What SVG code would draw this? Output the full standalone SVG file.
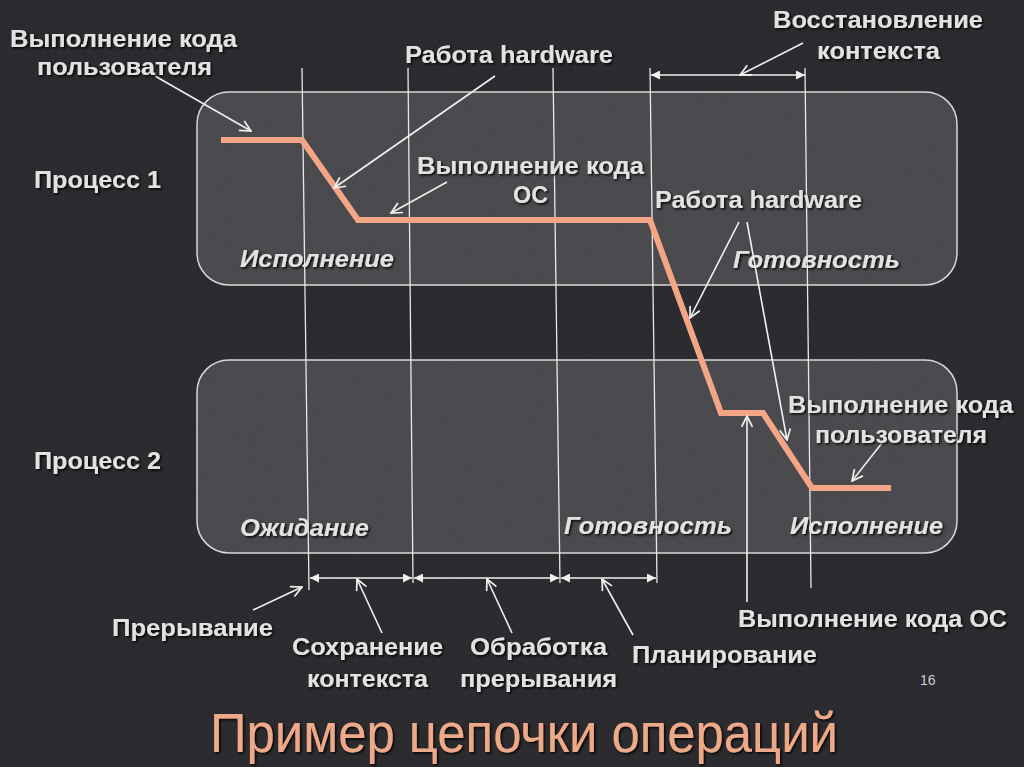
<svg xmlns="http://www.w3.org/2000/svg" width="1024" height="767" viewBox="0 0 1024 767">
<defs>
  <filter id="noise" x="0" y="0" width="100%" height="100%">
    <feTurbulence type="fractalNoise" baseFrequency="0.9" numOctaves="2" seed="3" result="n"/>
    <feColorMatrix type="matrix" values="0 0 0 0 0.5  0 0 0 0 0.5  0 0 0 0 0.5  0 0 0 0.06 0"/>
  </filter>
  <filter id="shadow" x="-10%" y="-30%" width="120%" height="160%">
    <feDropShadow dx="1.5" dy="1.5" stdDeviation="0.8" flood-color="#000" flood-opacity="0.9"/>
  </filter>
  <marker id="open" viewBox="0 0 12 12" refX="11" refY="6" markerWidth="13" markerHeight="13" orient="auto" markerUnits="userSpaceOnUse">
    <path d="M1,1 L11,6 L1,11" fill="none" stroke="#f0f0f0" stroke-width="1.6"/>
  </marker>
  <marker id="solid" viewBox="0 0 10 10" refX="10" refY="5" markerWidth="11" markerHeight="9" orient="auto-start-reverse" markerUnits="userSpaceOnUse">
    <path d="M0,0 L10,5 L0,10 z" fill="#f0f0f0"/>
  </marker>
</defs>
<style>
  .t { font-family: "Liberation Sans", Arial, sans-serif; font-size: 23px; font-weight: bold; fill: #e2e2e2; filter: url(#shadow); }
  .i { font-style: italic; }
  .box { fill: #ffffff; fill-opacity: 0.15; stroke: #d8d8d8; stroke-width: 1.5; }
  .vl { stroke: #e8e8e8; stroke-width: 1.3; fill: none; }
  .ar { stroke: #f0f0f0; stroke-width: 1.6; fill: none; marker-end: url(#open); }
  .br { stroke: #f0f0f0; stroke-width: 1.6; fill: none; marker-start: url(#solid); marker-end: url(#solid); }
  .title { font-family: "Liberation Sans", Arial, sans-serif; font-size: 56px; fill: #eeaa88; filter: url(#shadow); }
</style>
<rect width="1024" height="767" fill="#27262a"/>
<rect width="1024" height="767" filter="url(#noise)"/>

<g id="process1">
  <rect class="box" x="197" y="92" width="760" height="193" rx="32"/>
  <text class="t" x="34" y="188" textLength="127" lengthAdjust="spacingAndGlyphs">Процесс 1</text>
  <text class="t i" x="240" y="267" textLength="154" lengthAdjust="spacingAndGlyphs">Исполнение</text>
  <text class="t i" x="733" y="268" textLength="167" lengthAdjust="spacingAndGlyphs">Готовность</text>
</g>

<g id="process2">
  <rect class="box" x="197" y="360" width="760" height="193" rx="32"/>
  <text class="t" x="34" y="469" textLength="127" lengthAdjust="spacingAndGlyphs">Процесс 2</text>
  <text class="t i" x="240" y="536" textLength="129" lengthAdjust="spacingAndGlyphs">Ожидание</text>
  <text class="t i" x="564" y="534" textLength="168" lengthAdjust="spacingAndGlyphs">Готовность</text>
  <text class="t i" x="790" y="534" textLength="153" lengthAdjust="spacingAndGlyphs">Исполнение</text>
</g>

<g id="connectors">
  <line class="vl" x1="302" y1="68" x2="309" y2="590"/>
  <line class="vl" x1="408" y1="68" x2="413" y2="583"/>
  <line class="vl" x1="553" y1="68" x2="560" y2="583"/>
  <line class="vl" x1="650" y1="68" x2="657" y2="583"/>
  <line class="vl" x1="805" y1="68" x2="811" y2="588"/>

  <line class="br" x1="651" y1="75" x2="805" y2="75"/>
  <line class="br" x1="310" y1="578" x2="412" y2="578"/>
  <line class="br" x1="414" y1="578" x2="559" y2="578"/>
  <line class="br" x1="561" y1="578" x2="656" y2="578"/>

  <polyline points="221,140 302,140 358,220 650,220 721,413 763,413 812,488 891,488" fill="none" stroke="#f3a585" stroke-width="6" stroke-linejoin="miter"/>

  <line class="ar" x1="155" y1="76" x2="251" y2="131"/>
  <line class="ar" x1="495" y1="76" x2="334" y2="188"/>
  <line class="ar" x1="447" y1="182" x2="391" y2="213"/>
  <line class="ar" x1="803" y1="43" x2="740" y2="75"/>
  <line class="ar" x1="739" y1="222" x2="690" y2="318"/>
  <line class="ar" x1="747" y1="222" x2="787" y2="440"/>
  <line class="ar" x1="882" y1="443" x2="852" y2="481"/>
  <line class="ar" x1="747" y1="602" x2="747" y2="416"/>
  <line class="ar" x1="253" y1="610" x2="302" y2="587"/>
  <line class="ar" x1="382" y1="633" x2="357" y2="579"/>
  <line class="ar" x1="512" y1="633" x2="487" y2="579"/>
  <line class="ar" x1="633" y1="635" x2="602" y2="579"/>
</g>

<g id="labels">
  <text class="t" x="10" y="47" textLength="227" lengthAdjust="spacingAndGlyphs">Выполнение кода</text>
  <text class="t" x="37" y="75" textLength="175" lengthAdjust="spacingAndGlyphs">пользователя</text>
  <text class="t" x="405" y="63" textLength="208" lengthAdjust="spacingAndGlyphs">Работа hardware</text>
  <text class="t" x="773" y="28" textLength="210" lengthAdjust="spacingAndGlyphs">Восстановление</text>
  <text class="t" x="817" y="59" textLength="123" lengthAdjust="spacingAndGlyphs">контекста</text>
  <text class="t" x="417" y="174" textLength="227" lengthAdjust="spacingAndGlyphs">Выполнение кода</text>
  <text class="t" x="513" y="203" textLength="35" lengthAdjust="spacingAndGlyphs">ОС</text>
  <text class="t" x="655" y="208" textLength="207" lengthAdjust="spacingAndGlyphs">Работа hardware</text>
  <text class="t" x="788" y="413" textLength="225" lengthAdjust="spacingAndGlyphs">Выполнение кода</text>
  <text class="t" x="815" y="443" textLength="172" lengthAdjust="spacingAndGlyphs">пользователя</text>
  <text class="t" x="112" y="636" textLength="161" lengthAdjust="spacingAndGlyphs">Прерывание</text>
  <text class="t" x="292" y="655" textLength="151" lengthAdjust="spacingAndGlyphs">Сохранение</text>
  <text class="t" x="307" y="687" textLength="121" lengthAdjust="spacingAndGlyphs">контекста</text>
  <text class="t" x="470" y="655" textLength="137" lengthAdjust="spacingAndGlyphs">Обработка</text>
  <text class="t" x="460" y="687" textLength="157" lengthAdjust="spacingAndGlyphs">прерывания</text>
  <text class="t" x="632" y="663" textLength="185" lengthAdjust="spacingAndGlyphs">Планирование</text>
  <text class="t" x="738" y="627" textLength="269" lengthAdjust="spacingAndGlyphs">Выполнение кода ОС</text>
  <text x="920" y="685" font-family="Liberation Sans, Arial, sans-serif" font-size="14" fill="#cfcfcf">16</text>
  <text class="title" x="210" y="752" textLength="628" lengthAdjust="spacingAndGlyphs">Пример цепочки операций</text>
</g>
</svg>
